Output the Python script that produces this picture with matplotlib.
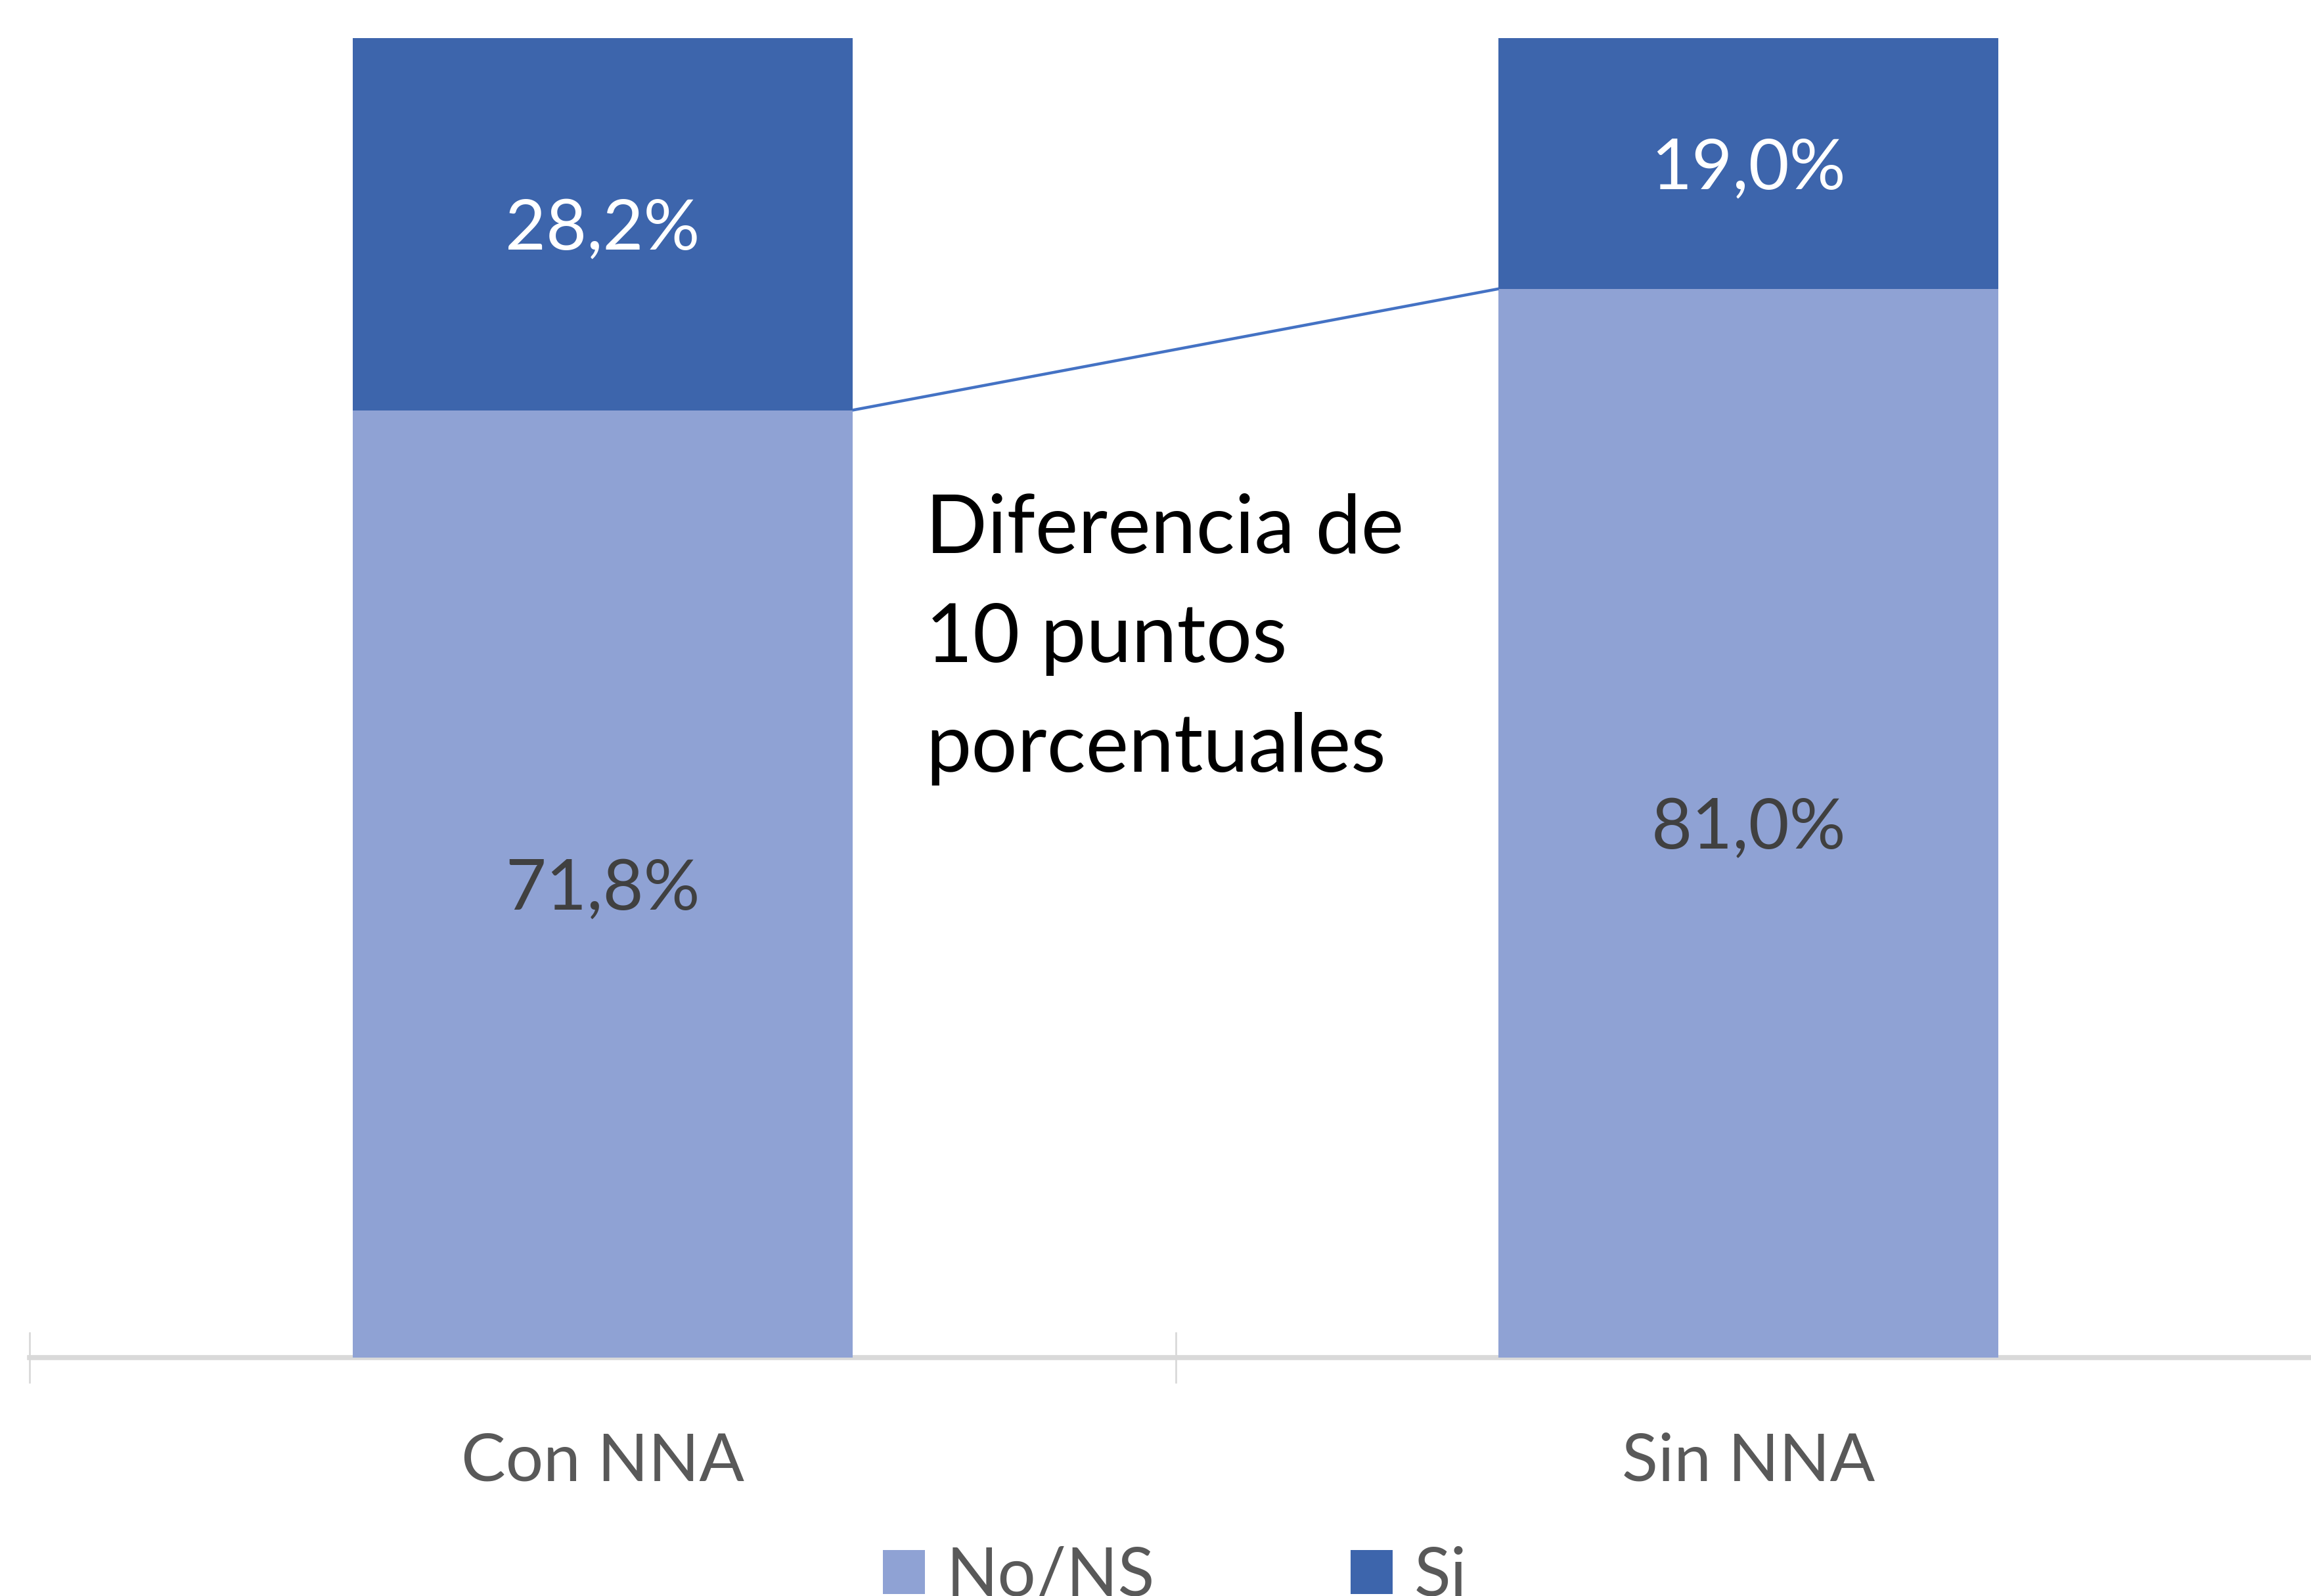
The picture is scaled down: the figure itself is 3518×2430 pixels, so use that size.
import matplotlib
matplotlib.use("Agg")
import matplotlib.pyplot as plt
from matplotlib.patches import Patch

plt.rcParams['font.family'] = ['Lato', 'DejaVu Sans']

categories = ["Con NNA", "Sin NNA"]
no_ns = [71.8, 81.0]
si = [28.2, 19.0]
series_names = ["No/NS", "Si"]
annotation = "Diferencia de\n10 puntos\nporcentuales"

c_light = "#8FA2D4"
c_dark = "#3D65AC"

fig = plt.figure(figsize=(35.18, 24.30), dpi=100)
ax = fig.add_axes([45/3518, (2430-2067)/2430, 3489/3518, (2067-58)/2430])

x = list(range(len(categories)))
w = 0.436
b1 = ax.bar(x, no_ns, width=w, color=c_light, zorder=3, linewidth=0)
b2 = ax.bar(x, si, width=w, bottom=no_ns, color=c_dark, zorder=3, linewidth=0)

lab_fs = 77
half_digit = lab_fs * 0.72 / 2
for i in x:
    ax.annotate(f"{no_ns[i]:.1f}%".replace('.', ','), xy=(i, no_ns[i] / 2),
                xytext=(0, -half_digit), textcoords='offset points',
                ha='center', va='baseline', fontsize=lab_fs, color='#404040', zorder=4)
    ax.annotate(f"{si[i]:.1f}%".replace('.', ','), xy=(i, no_ns[i] + si[i] / 2),
                xytext=(0, -half_digit), textcoords='offset points',
                ha='center', va='baseline', fontsize=lab_fs, color='white', zorder=4)

# connector line between segment boundaries
ax.plot([x[0] + w / 2, x[1] - w / 2], [no_ns[0], no_ns[1]], color='#4472C4', lw=3.2, zorder=4,
        solid_capstyle='butt')

ax.text(0.282, 44.4, annotation, ha='left', va='baseline', fontsize=89, color='black',
        linespacing=1.6, zorder=4)

ax.set_xlim(-0.5, 1.5)
ax.set_ylim(0, 100)
ax.set_xticks(x)
ax.set_xticklabels(categories, fontsize=73, color='#595959')
ax.set_xticks([-0.5, 0.5, 1.5], minor=True)
ax.tick_params(axis='x', which='major', length=0, pad=82)
ax.tick_params(axis='x', which='minor', direction='inout', length=56, width=2, color='#D9D9D9')
ax.set_yticks([])
for s in ['left', 'right', 'top']:
    ax.spines[s].set_visible(False)
ax.spines['bottom'].set_color('#D9D9D9')
ax.spines['bottom'].set_linewidth(5.5)
ax.spines['bottom'].set_zorder(2)

handles = [Patch(facecolor=c_light), Patch(facecolor=c_dark)]
fig.legend(handles, series_names, loc='center', bbox_to_anchor=(0.5085, 0.012), ncol=2,
           frameon=False, fontsize=74, labelcolor='#595959', handlelength=0.62, handleheight=0.62,
           handletextpad=0.32, columnspacing=2.9, borderpad=0, borderaxespad=0)

fig.savefig("out.png", dpi=100, facecolor='white')
